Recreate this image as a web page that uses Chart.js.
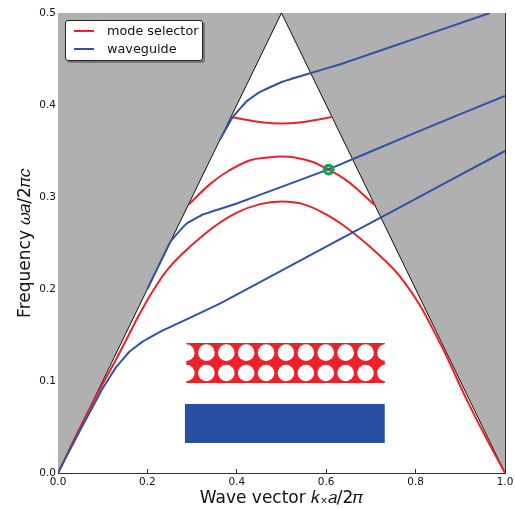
<!DOCTYPE html>
<html>
<head>
<meta charset="utf-8">
<script src="https://cdn.jsdelivr.net/npm/chart.js@4"></script>
<style>
  body { margin: 0; background: #fff; width: 515px; height: 509px; overflow: hidden; position: relative; }
  canvas { position: absolute; left: 0; top: 0; }
  #legend {
    position: absolute; left: 65px; top: 20px; width: 136px; height: 39px;
    background: #fff; border: 1px solid #222; border-radius: 3px;
    box-shadow: 2px 2px 0 #777;
    font: 12.8px "DejaVu Sans", sans-serif; color: #111;
  }
  #legend div { position: absolute; left: 41px; line-height: 16px; white-space: nowrap; }
  #legend i { position: absolute; left: -33px; top: 7px; width: 20px; height: 2px; }
</style>
</head>
<body>
<canvas id="chart" width="515" height="509"></canvas>
<div id="legend"></div>
<script>
const seriesNames = ["mode selector", "waveguide"];
const redColor = "#ee2029";
const blueColor = "#2f52a8";

const lowerRedX = [0, 0.05, 0.1, 0.125, 0.155, 0.185, 0.215, 0.25, 0.3, 0.35, 0.4, 0.45, 0.5, 0.55, 0.6, 0.65, 0.7, 0.75, 0.78, 0.81, 0.84, 0.87, 0.914, 0.96, 1];
const lowerRedY = [0, 0.05, 0.097, 0.119, 0.147, 0.175, 0.2, 0.224, 0.248, 0.268, 0.283, 0.292, 0.295, 0.292, 0.281, 0.265, 0.245, 0.222, 0.204, 0.182, 0.155, 0.126, 0.08, 0.036, 0];

const middleRedX = [0.293, 0.34, 0.38, 0.43, 0.47, 0.5, 0.53, 0.57, 0.6, 0.64, 0.675, 0.709];
const middleRedY = [0.292, 0.314, 0.328, 0.34, 0.343, 0.344, 0.343, 0.338, 0.331, 0.32, 0.306, 0.291];

const upperRedX = [0.388, 0.42, 0.46, 0.5, 0.54, 0.58, 0.612];
const upperRedY = [0.387, 0.384, 0.381, 0.38, 0.381, 0.384, 0.387];

const lowerBlueX = [0, 0.05, 0.1, 0.13, 0.16, 0.19, 0.23, 0.362, 0.5, 0.75, 1];
const lowerBlueY = [0, 0.047, 0.092, 0.115, 0.132, 0.143, 0.154, 0.184, 0.22, 0.285, 0.35];

const middleBlueX = [0.2, 0.25, 0.27, 0.29, 0.324, 0.362, 0.4, 0.5, 0.605, 0.8, 1];
const middleBlueY = [0.2, 0.25, 0.262, 0.272, 0.281, 0.287, 0.293, 0.311, 0.33, 0.37, 0.41];

const upperBlueX = [0.362, 0.391, 0.422, 0.451, 0.5, 0.56, 0.63, 0.72, 0.966];
const upperBlueY = [0.362, 0.387, 0.404, 0.414, 0.425, 0.434, 0.444, 0.459, 0.5];

const leftGapX = [0, 0, 0.5];
const leftGapY = [0, 0.5, 0.5];
const rightGapX = [1, 1, 0.5];
const rightGapY = [0, 0.5, 0.5];
const lightLineX = [0, 0.5, 1];
const lightLineY = [0, 0.5, 0];

const redBarX = [0.287, 0.731, 0.731, 0.287, 0.287];
const redBarY = [0.0978, 0.0978, 0.1413, 0.1413, 0.0978];
const blueBarX = [0.284, 0.731, 0.731, 0.284, 0.284];
const blueBarY = [0.0326, 0.0326, 0.075, 0.075, 0.0326];
const holeX = [0.287, 0.332, 0.3765, 0.421, 0.4655, 0.51, 0.5545, 0.599, 0.6435, 0.688, 0.7325];
const holeRows = [0.1308, 0.1087];

const crossingX = [0.6055];
const crossingY = [0.3297];

const xTicks = [0, 0.2, 0.4, 0.6, 0.8, 1];
const yTicks = [0, 0.1, 0.2, 0.3, 0.4, 0.5];

function pts(xs, ys) {
  return xs.map((x, i) => ({ x: x, y: ys[i] }));
}

function redCurve(xs, ys) {
  return { data: pts(xs, ys), showLine: true, borderColor: redColor, borderWidth: 2, pointRadius: 0, tension: 0.4, fill: false, order: 10 };
}

function blueCurve(xs, ys) {
  return { data: pts(xs, ys), showLine: true, borderColor: blueColor, borderWidth: 2, pointRadius: 0, tension: 0.05, fill: false, order: 9 };
}

function shape(xs, ys, color, order) {
  return { data: pts(xs, ys), showLine: true, borderWidth: 0, borderColor: color, backgroundColor: color, pointRadius: 0, fill: "shape", order: order };
}

const holes = holeRows.flatMap((y) => holeX.map((x) => ({ x: x, y: y })));

const datasets = [
  shape(leftGapX, leftGapY, "#b0b0b0", 20),
  shape(rightGapX, rightGapY, "#b0b0b0", 20),
  { data: pts(lightLineX, lightLineY), showLine: true, borderColor: "#111", borderWidth: 1, pointRadius: 0, fill: false, order: 19 },
  redCurve(lowerRedX, lowerRedY),
  redCurve(middleRedX, middleRedY),
  redCurve(upperRedX, upperRedY),
  blueCurve(lowerBlueX, lowerBlueY),
  blueCurve(middleBlueX, middleBlueY),
  blueCurve(upperBlueX, upperBlueY),
  shape(redBarX, redBarY, redColor, 8),
  shape(blueBarX, blueBarY, "#2850a0", 8),
  { data: holes, showLine: false, pointRadius: 8.3, pointBorderWidth: 0, pointBackgroundColor: "#fff", order: 7 },
  { data: pts(crossingX, crossingY), showLine: false, pointRadius: 4.2, pointBorderWidth: 3.4, pointBorderColor: "#0da750", pointBackgroundColor: "rgba(0,0,0,0)", order: 1 },
];

function axis(pos, min, max, ticks, size, showLabels, title) {
  const horizontal = pos === "bottom" || pos === "top";
  return {
    type: "linear", position: pos, min: min, max: max,
    border: { color: "#333", width: 1 },
    grid: { drawOnChartArea: false, color: "#333", tickLength: -4 },
    afterBuildTicks: (s) => { s.ticks = ticks.map((v) => ({ value: v })); },
    afterFit: (s) => {
      if (horizontal) s.height = size; else s.width = size;
      // tick labels hang over the plot edge, don't let them shrink it
      s.paddingLeft = s.paddingRight = s.paddingTop = s.paddingBottom = 0;
    },
    ticks: {
      display: showLabels, padding: horizontal ? 7 : 6, color: "#111",
      font: { family: "DejaVu Sans", size: 10.5 },
      maxRotation: 0, autoSkip: false,
      callback: (v) => v.toFixed(1),
    },
    title: title ? { display: true, text: title, color: "#111", font: { family: "DejaVu Sans", size: 17 }, padding: horizontal ? 0 : { top: 15 } } : { display: false },
  };
}

new Chart(document.getElementById("chart"), {
  type: "scatter",
  data: { datasets: datasets },
  options: {
    responsive: false,
    animation: false,
    layout: { padding: 0 },
    plugins: { legend: { display: false }, tooltip: { enabled: false } },
    scales: {
      x: axis("bottom", 0, 1, xTicks, 36, true, "Wave vector 𝑘ₓ𝑎/2𝜋"),
      y: axis("left", 0, 0.5, yTicks, 58, true, "Frequency 𝜔𝑎/2𝜋𝑐"),
      x2: axis("top", 0, 1, xTicks, 13, false),
      y2: axis("right", 0, 0.5, yTicks, 10, false),
    },
  },
});

const legend = document.getElementById("legend");
[redColor, blueColor].forEach((color, i) => {
  const row = document.createElement("div");
  row.style.top = 2 + i * 18 + "px";
  row.textContent = seriesNames[i];
  const swatch = document.createElement("i");
  swatch.style.background = color;
  row.appendChild(swatch);
  legend.appendChild(row);
});
</script>
</body>
</html>
